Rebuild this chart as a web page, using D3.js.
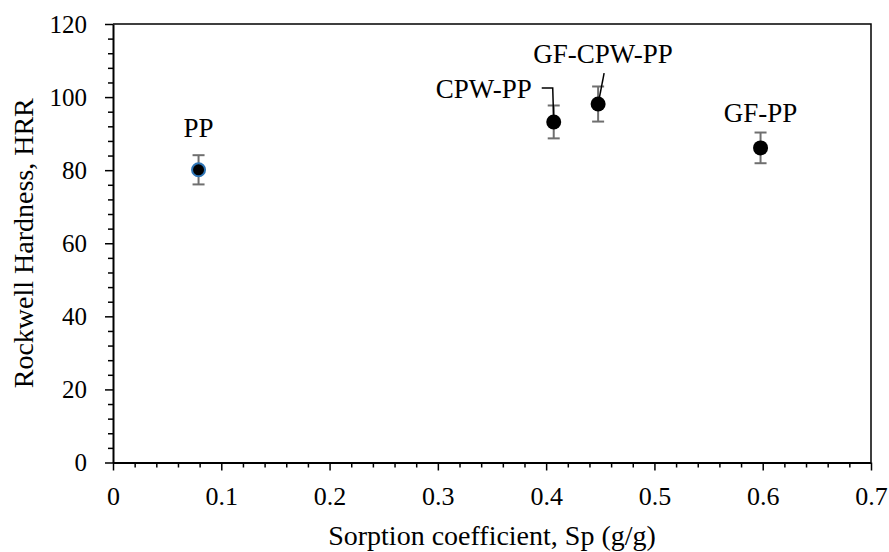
<!DOCTYPE html>
<meta charset="utf-8">
<script src="https://d3js.org/d3.v7.min.js"></script>
<style>
  body { margin: 0; background: #fff; }
</style>
<div id="my_dataviz"></div>
<script>

// data
var samples = ["PP", "CPW-PP", "GF-CPW-PP", "GF-PP"];
var sorption = [0.079, 0.407, 0.448, 0.598];
var hardness = [80.1, 93.2, 98.1, 86.1];
var hardnessErr = [4.0, 4.5, 4.8, 4.2];
var xTicks = [0, 0.1, 0.2, 0.3, 0.4, 0.5, 0.6, 0.7];
var yTicks = [0, 20, 40, 60, 80, 100, 120];

var FONT = "Liberation Serif";

// dimensions
var margin = {top: 24, right: 18, bottom: 89.5, left: 113},
    width = 889 - margin.left - margin.right,
    height = 552 - margin.top - margin.bottom;

var svg = d3.select("#my_dataviz")
  .append("svg")
    .attr("width", 889)
    .attr("height", 552)
  .append("g")
    .attr("transform", "translate(" + margin.left + "," + margin.top + ")");

var x = d3.scaleLinear().domain([0, 0.7]).range([0, width]);
var y = d3.scaleLinear().domain([0, 120]).range([height, 0]);

// box (top and right)
svg.append("path")
  .attr("d", "M0,0H" + width + "V" + height)
  .attr("fill", "none")
  .attr("stroke", "#000")
  .attr("stroke-width", 1.5);

// minor ticks
var xMinor = d3.range(0, 0.7001, 0.02).filter(function(d){ return Math.abs(d*10 - Math.round(d*10)) > 1e-6; });
var yMinor = d3.range(0, 120.001, 4).filter(function(d){ return d % 20 !== 0; });

svg.append("g")
  .attr("transform", "translate(0," + height + ")")
  .call(d3.axisBottom(x).tickValues(xMinor).tickSize(5).tickFormat(""))
  .call(function(g){ g.select(".domain").remove(); g.selectAll("line").attr("stroke-width", 1.5); });

svg.append("g")
  .call(d3.axisLeft(y).tickValues(yMinor).tickSize(5).tickFormat(""))
  .call(function(g){ g.select(".domain").remove(); g.selectAll("line").attr("stroke-width", 1.5); });

// X axis
var xAxis = svg.append("g")
  .attr("transform", "translate(0," + height + ")")
  .call(d3.axisBottom(x).tickValues(xTicks).tickSize(8).tickPadding(16).tickSizeOuter(0)
    .tickFormat(function(d){ return d === 0 ? "0" : d3.format(".1f")(d); }));
xAxis.attr("font-family", FONT);
xAxis.select(".domain").attr("stroke-width", 2);
xAxis.selectAll("line").attr("stroke-width", 1.5);
xAxis.selectAll("text").style("font-size", "26px").style("font-family", FONT).attr("fill", "#000");

// Y axis
var yAxis = svg.append("g")
  .call(d3.axisLeft(y).tickValues(yTicks).tickSize(8).tickPadding(18).tickSizeOuter(0));
yAxis.attr("font-family", FONT);
yAxis.select(".domain").attr("stroke-width", 2);
yAxis.selectAll("line").attr("stroke-width", 1.5);
yAxis.selectAll("text").style("font-size", "25px").style("font-family", FONT).attr("fill", "#000");

// axis titles
svg.append("text")
  .attr("x", width / 2)
  .attr("y", height + 82)
  .style("text-anchor", "middle")
  .style("font-size", "28px")
  .style("font-family", FONT)
  .text("Sorption coefficient, Sp (g/g)");

svg.append("text")
  .attr("transform", "rotate(-90)")
  .attr("x", -height / 2)
  .attr("y", -80)
  .style("text-anchor", "middle")
  .style("font-size", "28px")
  .style("font-family", FONT)
  .text("Rockwell Hardness, HRR");

// error bars
var points = samples.map(function(s, i){ return {name: s, sp: sorption[i], hrr: hardness[i], err: hardnessErr[i]}; });

var eb = svg.selectAll(".eb").data(points).enter().append("g").attr("class", "eb")
  .attr("stroke", "#6f6f6f").attr("stroke-width", 2);
eb.append("line")
  .attr("x1", function(d){ return x(d.sp); }).attr("x2", function(d){ return x(d.sp); })
  .attr("y1", function(d){ return y(d.hrr + d.err); }).attr("y2", function(d){ return y(d.hrr - d.err); });
eb.append("line")
  .attr("x1", function(d){ return x(d.sp) - 6; }).attr("x2", function(d){ return x(d.sp) + 6; })
  .attr("y1", function(d){ return y(d.hrr + d.err); }).attr("y2", function(d){ return y(d.hrr + d.err); });
eb.append("line")
  .attr("x1", function(d){ return x(d.sp) - 6; }).attr("x2", function(d){ return x(d.sp) + 6; })
  .attr("y1", function(d){ return y(d.hrr - d.err); }).attr("y2", function(d){ return y(d.hrr - d.err); });

// leader lines
var cpw = points[1], gfc = points[2];
svg.append("path")
  .attr("d", "M" + (x(cpw.sp) - 12) + "," + (y(cpw.hrr) - 34) + "H" + (x(cpw.sp) - 1) + "L" + x(cpw.sp) + "," + y(cpw.hrr))
  .attr("fill", "none").attr("stroke", "#000").attr("stroke-width", 1.5);
svg.append("path")
  .attr("d", "M" + (x(gfc.sp) + 6) + "," + (y(gfc.hrr) - 31) + "L" + x(gfc.sp) + "," + y(gfc.hrr))
  .attr("fill", "none").attr("stroke", "#000").attr("stroke-width", 1.5);

// markers
svg.selectAll("circle").data(points).enter().append("circle")
  .attr("cx", function(d){ return x(d.sp); })
  .attr("cy", function(d){ return y(d.hrr); })
  .attr("r", function(d, i){ return i === 0 ? 6.5 : 7.5; })
  .style("fill", "#000")
  .style("stroke", function(d, i){ return i === 0 ? "#2e75b6" : "none"; })
  .style("stroke-width", 2);

// point labels
var labelPos = {
  "PP":        {dx: 0,   dy: -33, anchor: "middle"},
  "CPW-PP":    {dx: -22, dy: -24, anchor: "end"},
  "GF-CPW-PP": {dx: 5,   dy: -41, anchor: "middle"},
  "GF-PP":     {dx: 0,   dy: -26, anchor: "middle"}
};
svg.selectAll(".lbl").data(points).enter().append("text").attr("class", "lbl")
  .attr("x", function(d){ return x(d.sp) + labelPos[d.name].dx; })
  .attr("y", function(d){ return y(d.hrr) + labelPos[d.name].dy; })
  .style("text-anchor", function(d){ return labelPos[d.name].anchor; })
  .style("font-size", "27px")
  .style("font-family", FONT)
  .text(function(d){ return d.name; });

</script>
